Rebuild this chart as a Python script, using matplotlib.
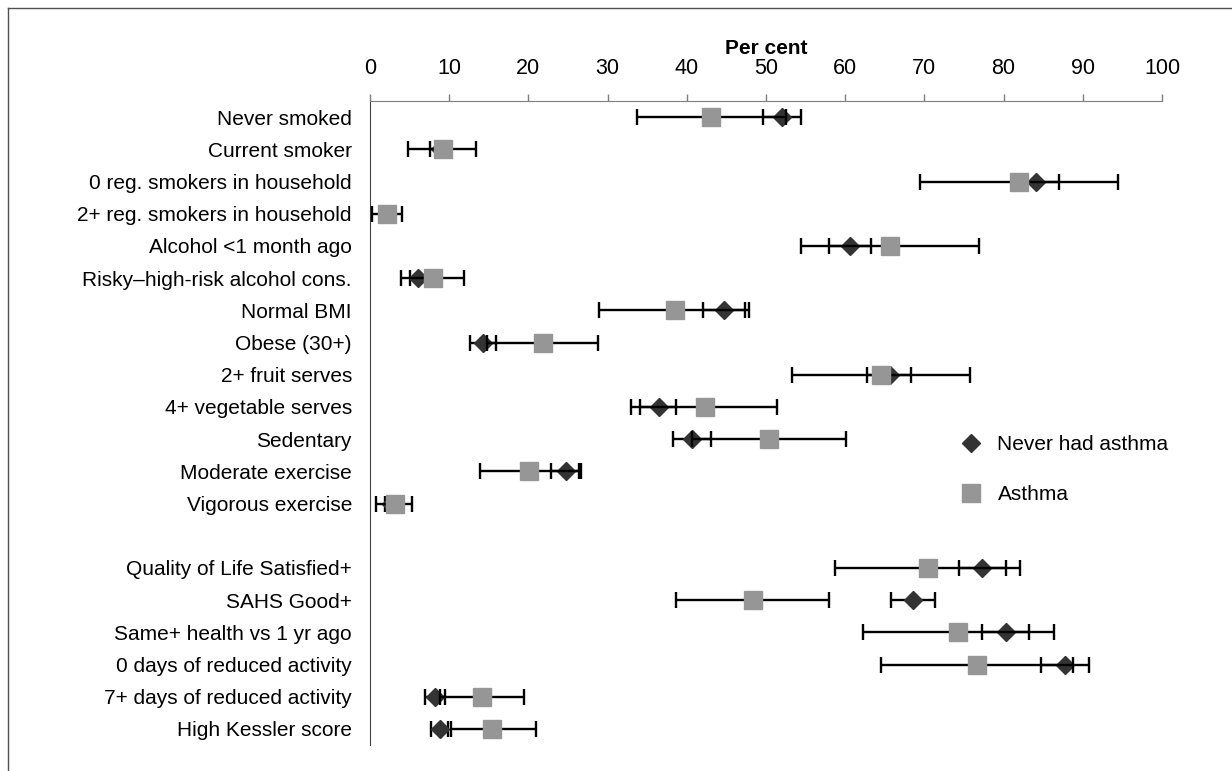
import numpy as np
import matplotlib
import matplotlib.pyplot as plt
from matplotlib.lines import Line2D

matplotlib.use('Agg')

plt.rcParams['font.family'] = ['Liberation Sans', 'DejaVu Sans']

labels = [
    'Never smoked', 'Current smoker', '0 reg. smokers in household',
    '2+ reg. smokers in household', 'Alcohol <1 month ago',
    'Risky\u2013high-risk alcohol cons.', 'Normal BMI', 'Obese (30+)',
    '2+ fruit serves', '4+ vegetable serves', 'Sedentary',
    'Moderate exercise', 'Vigorous exercise',
    'Quality of Life Satisfied+', 'SAHS Good+', 'Same+ health vs 1 yr ago',
    '0 days of reduced activity', '7+ days of reduced activity',
    'High Kessler score',
]

# never had asthma: estimate, lower CI, upper CI
never = [52.0, 8.8, 84.1, 2.2, 60.6, 6.1, 44.7, 14.3, 65.6, 36.5, 40.7, 24.7, 2.6,
         77.3, 68.6, 80.3, 87.8, 8.2, 8.8]
never_lo = [49.6, 7.6, 81.2, 1.6, 58.0, 5.1, 42.0, 12.6, 62.8, 34.1, 38.3, 22.8, 1.9,
            74.4, 65.8, 77.3, 84.7, 6.9, 7.7]
never_hi = [54.4, 10.0, 87.0, 2.8, 63.3, 7.1, 47.4, 15.9, 68.3, 38.7, 43.1, 26.6, 3.3,
            80.3, 71.4, 83.2, 90.8, 9.5, 9.9]

# asthma
asthma = [43.1, 9.2, 82.0, 2.2, 65.7, 7.9, 38.5, 21.8, 64.5, 42.3, 50.4, 20.1, 3.2,
          70.5, 48.3, 74.3, 76.7, 14.1, 15.4]
asthma_lo = [33.7, 4.8, 69.5, 0.3, 54.4, 3.9, 28.9, 14.8, 53.3, 33.0, 40.7, 13.9, 0.7,
             58.7, 38.7, 62.3, 64.5, 8.8, 10.2]
asthma_hi = [52.5, 13.4, 94.5, 4.1, 76.9, 11.9, 47.9, 28.8, 75.7, 51.4, 60.1, 26.4, 5.3,
             82.1, 57.9, 86.3, 88.8, 19.4, 20.9]

# one empty row between the lifestyle block and the health block
idx = np.arange(len(labels))
ypos = idx + (idx >= 13)

fig = plt.figure(figsize=(12.32, 7.71), dpi=100)
ax = fig.add_axes([0.3003, 0.0337, 0.6429, 0.8353])

never = np.array(never)
asthma = np.array(asthma)
ebar = dict(fmt='none', ecolor='black', elinewidth=1.7, capsize=5.8, capthick=1.7)

ax.errorbar(never, ypos, xerr=[never - np.array(never_lo), np.array(never_hi) - never],
            zorder=2, **ebar)
ax.plot(never, ypos, linestyle='none', marker='D', ms=9, color='#333333',
        mec='#333333', label='Never had asthma', zorder=3)
ax.errorbar(asthma, ypos, xerr=[asthma - np.array(asthma_lo), np.array(asthma_hi) - asthma],
            zorder=4, **ebar)
ax.plot(asthma, ypos, linestyle='none', marker='s', ms=13, color='#969696',
        mec='#969696', label='Asthma', zorder=5)

ax.set_xlim(0, 100)
ax.set_ylim(19.5, -0.5)
ax.set_xticks(np.arange(0, 101, 10))
ax.set_yticks(ypos)
ax.set_yticklabels(labels, fontsize=15)

ax.xaxis.set_ticks_position('top')
ax.xaxis.set_label_position('top')
ax.tick_params(axis='x', direction='out', length=5, width=1, color='#7f7f7f',
               labelsize=15.5, pad=11)
ax.tick_params(axis='y', length=0, pad=13)
ax.set_xlabel('Per cent', fontsize=15, fontweight='bold', labelpad=3)

for s in ['right', 'bottom']:
    ax.spines[s].set_visible(False)
ax.spines['top'].set_color('#7f7f7f')
ax.spines['left'].set_color('#404040')

ax.legend(loc='upper left', bbox_to_anchor=(0.7716, 0.449), bbox_transform=fig.transFigure,
          frameon=False, fontsize=15, handlelength=1.0, handletextpad=0.75,
          labelspacing=1.5, borderpad=0, numpoints=1)

# outer frame
fig.add_artist(Line2D([8 / 1232, 1], [1 - 8 / 771, 1 - 8 / 771], transform=fig.transFigure,
                      color='#505050', lw=1))
fig.add_artist(Line2D([8 / 1232, 8 / 1232], [0, 1 - 8 / 771], transform=fig.transFigure,
                      color='#505050', lw=1))

fig.savefig('out.png', dpi=100)
